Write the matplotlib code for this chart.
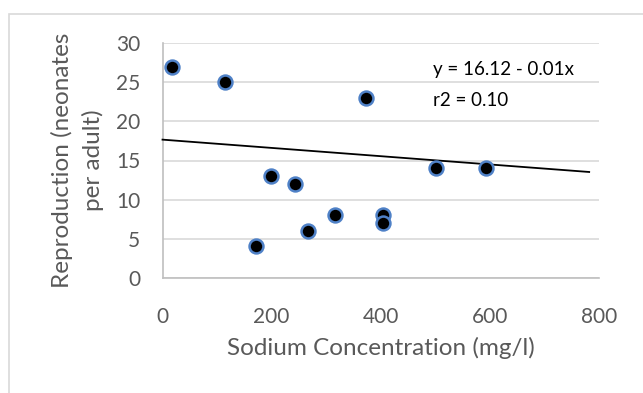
import matplotlib
matplotlib.use('Agg')
import matplotlib.pyplot as plt
from matplotlib.patches import Rectangle

# data
sodium = [17, 114, 171, 198, 242, 267, 317, 373, 404, 405, 501, 592]
neonates = [27, 25, 4, 13, 12, 6, 8, 23, 8, 7, 14, 14]

# trend line ends as drawn in the reference
trend_x = [0, 782]
trend_y = [17.67, 13.53]

x_ticks = [0, 200, 400, 600, 800]
y_ticks = [0, 5, 10, 15, 20, 25, 30]

eq_text = 'y = 16.12 - 0.01x'
r2_text = 'r2 = 0.10'

plt.rcParams['font.family'] = ['Lato', 'DejaVu Sans']
text_grey = '#595959'
grid_grey = '#d9d9d9'

fig = plt.figure(figsize=(6.43, 3.93), dpi=100)
# chart border (cropped on the right and bottom in the reference)
fig.patches.append(Rectangle((9 / 643, -0.1), 1.2, 1.1 - 14 / 393,
                             transform=fig.transFigure, fill=False,
                             edgecolor=grid_grey, linewidth=1.2))
ax = fig.add_axes([162.5 / 643, 1 - 277.7 / 393, 436.5 / 643, 234.4 / 393])

ax.plot(trend_x, trend_y, color='black', linewidth=1.3, zorder=3, clip_on=False)
ax.plot(sodium, neonates, linestyle='none', marker='o', markersize=10,
        markerfacecolor='black', markeredgecolor='#4f81c7', markeredgewidth=1.8,
        zorder=4, clip_on=False)

ax.set_xlim(0, 800)
ax.set_ylim(0, 30)
ax.set_xticks(x_ticks)
ax.set_yticks(y_ticks)
ax.tick_params(length=0, labelsize=15, labelcolor=text_grey)
ax.tick_params(axis='x', pad=21)
ax.tick_params(axis='y', pad=16)

ax.grid(axis='y', color=grid_grey, linewidth=1.2)
ax.set_axisbelow(True)
for side in ['top', 'right']:
    ax.spines[side].set_visible(False)
for side in ['left', 'bottom']:
    ax.spines[side].set_color('#bfbfbf')
    ax.spines[side].set_linewidth(1.2)

ax.set_xlabel('Sodium Concentration (mg/l)', fontsize=17.5, color=text_grey)
ax.xaxis.set_label_coords(0.5, -(348 - 277.7) / 234.4)
ax.xaxis.label.set_va('center')
ax.set_ylabel('Reproduction (neonates\nper adult)', fontsize=17.5, color=text_grey,
              linespacing=1.45)
ax.yaxis.set_label_coords(-(162.5 - 77.5) / 436.5, (277.7 - 160) / 234.4)
ax.yaxis.label.set_va('center')

fig.text((300 + 400 / 3) / 643, 1 - 70 / 393, eq_text, fontsize=13.5, color='black',
         va='center', ha='left')
fig.text((300 + 400 / 3) / 643, 1 - 100 / 393, r2_text, fontsize=13.5, color='black',
         va='center', ha='left')

fig.savefig('out.png', dpi=100)
